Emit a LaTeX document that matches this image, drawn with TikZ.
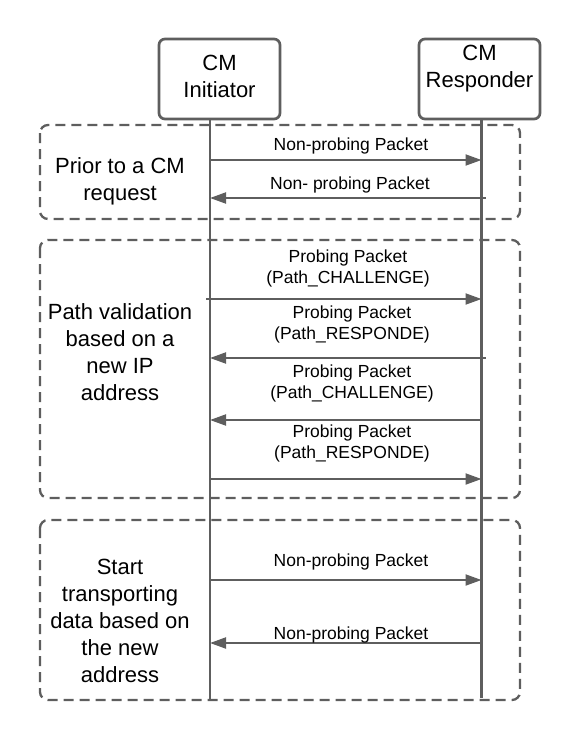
\documentclass[tikz,border=0pt]{standalone}
\usepackage{fontspec}
\setmainfont{Liberation Sans}
\usepackage{tikz}
\usetikzlibrary{arrows.meta}
\definecolor{linegray}{HTML}{5E5E5E}

\begin{document}
\begin{tikzpicture}[x=1pt,y=-1pt,
  actor/.style={draw=linegray, line width=2.7pt, rounded corners=6pt, minimum width=121pt, minimum height=80pt},
  phase/.style={draw=linegray, line width=2.3pt, rounded corners=8pt, dash pattern=on 10pt off 6pt},
  life/.style={draw=linegray, line width=2.7pt},
  msg/.style={draw=linegray, line width=2pt, -{Triangle[length=16pt,width=11pt]}},
  big/.style={font=\fontsize{22}{27}\selectfont, align=center, inner sep=0pt},
  lbl/.style={font=\fontsize{17.5}{21}\selectfont, align=center, inner sep=0pt}]

  \useasboundingbox (0,0) rectangle (580,740);

  \draw[phase] (40,125) rectangle (520,219);
  \draw[phase] (40,240) rectangle (520,498);
  \draw[phase] (40,520) rectangle (520,700);

  \node[actor] (ini) at (219.5,79) {};
  \node[actor] (resp) at (479.5,79) {};
  \node[big] (initxt) at (219.5,76.5) {CM\\Initiator};
  \node[big] (resptxt) at (479.5,68.5) {CM\\Responder};

  \coordinate (iniend) at (210,700);
  \coordinate (respend) at (481.5,698);
  \draw[life] (ini.south -| iniend) -- (iniend);
  \draw[life] (resp.south -| respend) -- (respend);

  \foreach \n/\y in {1/160, 2/198, 3/299, 4/358, 5/420, 6/479, 7/580, 8/643} {
    \coordinate (i\n) at (210,\y);
    \coordinate (r\n) at (481.5,\y);
  }

  \draw[msg] (i1) -- (r1);
  \draw[msg] ([xshift=4pt]r2) -- (i2);
  \draw[msg] ([xshift=-4pt]i3) -- (r3);
  \draw[msg] ([xshift=4pt]r4) -- (i4);
  \draw[msg] (r5) -- (i5);
  \draw[msg] (i6) -- (r6);
  \draw[msg] (i7) -- (r7);
  \draw[msg] (r8) -- (i8);

  \node[lbl] (m1) at (351,146) {Non-probing Packet};
  \node[lbl] (m2) at (350,185) {Non- probing Packet};
  \node[lbl] (m3) at (348,268.5) {Probing Packet\\(Path\_CHALLENGE)};
  \node[lbl] (m4) at (352,324) {Probing Packet\\(Path\_RESPONDE)};
  \node[lbl] (m5) at (352,383.5) {Probing Packet\\(Path\_CHALLENGE)};
  \node[lbl] (m6) at (352,443.5) {Probing Packet\\(Path\_RESPONDE)};
  \node[lbl] (m7) at (351,562) {Non-probing Packet};
  \node[lbl] (m8) at (351,635) {Non-probing Packet};

  \node[big] (p1) at (120,181.5) {Prior to a CM\\request};
  \node[big] (p2) at (120,352) {Path validation\\based on a\\new IP\\address};
  \node[big] (p3) at (120,620.5) {Start\\transporting\\data based on\\the new\\address};
\end{tikzpicture}
\end{document}
